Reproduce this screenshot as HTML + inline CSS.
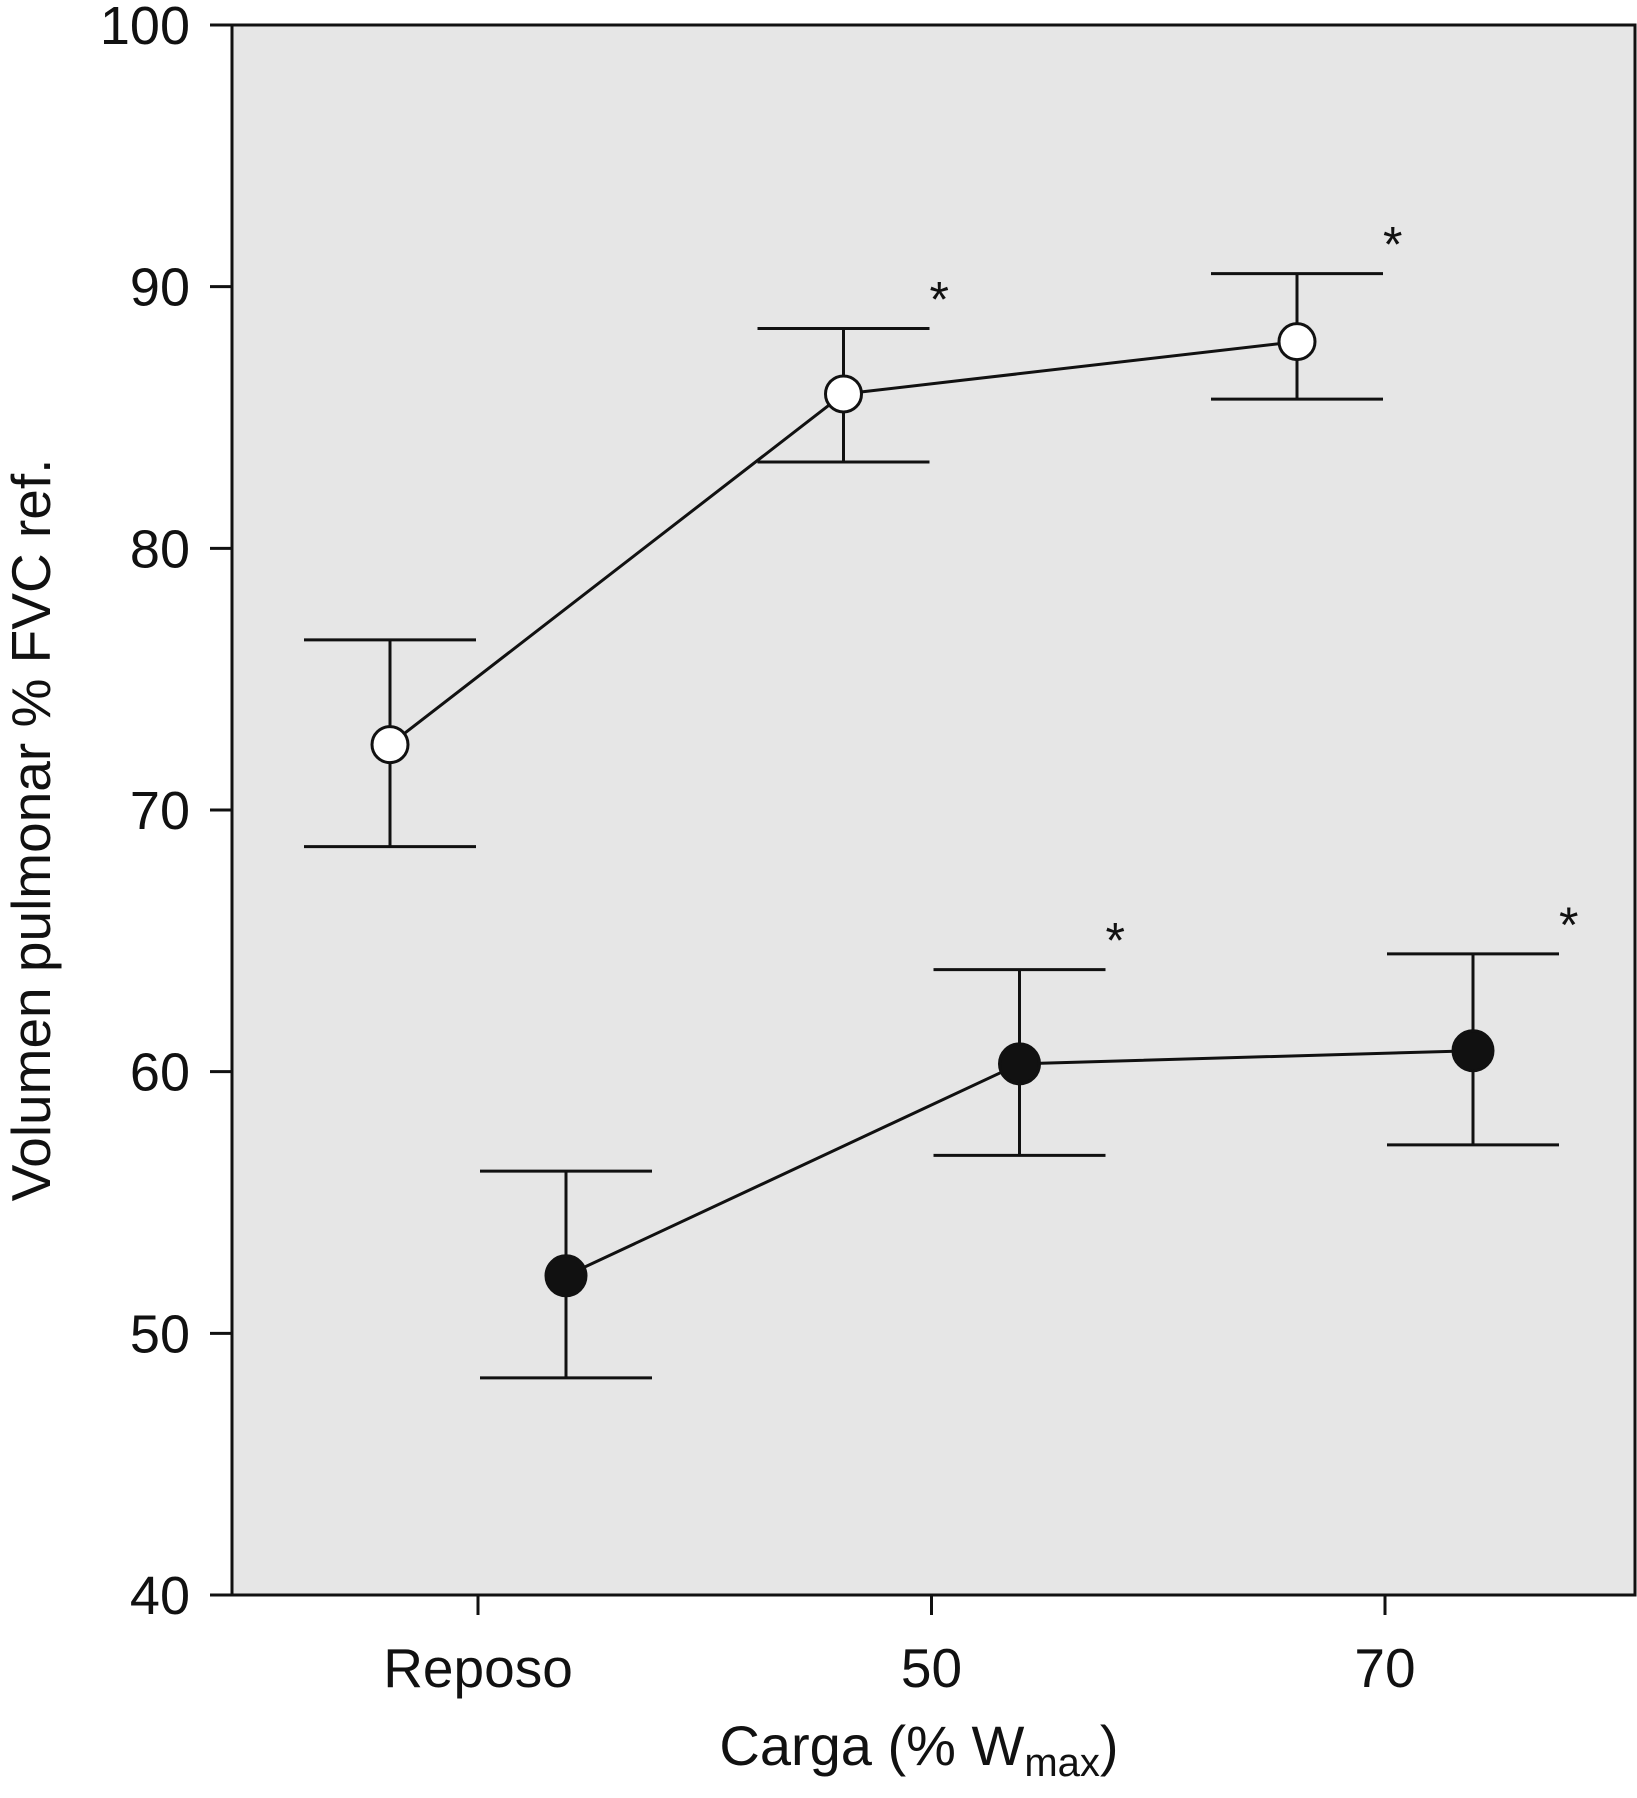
<!DOCTYPE html>
<html><head><meta charset="utf-8"><style>
html,body{margin:0;padding:0;background:#fff}
svg{display:block}
text{font-family:"Liberation Sans",Arial,sans-serif;fill:#111}
</style></head><body>
<svg id="chart" width="1637" height="1798" viewBox="0 0 1637 1798" xmlns="http://www.w3.org/2000/svg"></svg>
<script>
const categories = ["Reposo","50","70"];
const openMean = [72.5, 85.9, 87.9];
const openUpper = [76.5, 88.4, 90.5];
const openLower = [68.6, 83.3, 85.7];
const filledMean = [52.2, 60.3, 60.8];
const filledUpper = [56.2, 63.9, 64.5];
const filledLower = [48.3, 56.8, 57.2];
const openSig = [false, true, true];
const filledSig = [false, true, true];
const yTicks = [40,50,60,70,80,90,100];

const L=232, R=1635, T=25, B=1595;
const yMin=40, yMax=100;
function y(v){return B-(v-yMin)/(yMax-yMin)*(B-T);}
function xc(i){return 478+453.5*i;}
const OFF=88, CAP=86;
const svg=document.getElementById('chart');
const NS='http://www.w3.org/2000/svg';
function mk(tag,attrs,parent){const e=document.createElementNS(NS,tag);for(const k in attrs)e.setAttribute(k,attrs[k]);(parent||svg).appendChild(e);return e;}

const bg=mk('rect',{x:L,y:T,width:R-L,height:B-T,fill:'#e6e6e6',stroke:'#111','stroke-width':3});



yTicks.forEach(v=>{
  const t=mk('line',{x1:L-22,x2:L,y1:y(v),y2:y(v),stroke:'#111','stroke-width':3});
  
  
  const tx=mk('text',{x:L-42,y:y(v)+19,'text-anchor':'end','font-size':54});
  tx.textContent=v;
  
  
});
categories.forEach((c,i)=>{
  const t=mk('line',{x1:xc(i),x2:xc(i),y1:B,y2:B+20,stroke:'#111','stroke-width':3});
  
  
  const tx=mk('text',{x:xc(i),y:1687,'text-anchor':'middle','font-size':55});
  tx.textContent=c;
  
  
});

function series(mean,up,lo,sig,off,fill,name){
  const pts=mean.map((v,i)=>(xc(i)+off)+','+y(v)).join(' ');
  const pl=mk('polyline',{points:pts,fill:'none',stroke:'#111','stroke-width':3});
  
  
  mean.forEach((v,i)=>{
    const x=xc(i)+off;
    const g=mk('g',{});
    
    
    mk('line',{x1:x,x2:x,y1:y(up[i]),y2:y(lo[i]),stroke:'#111','stroke-width':3},g);
    mk('line',{x1:x-CAP,x2:x+CAP,y1:y(up[i]),y2:y(up[i]),stroke:'#111','stroke-width':3},g);
    mk('line',{x1:x-CAP,x2:x+CAP,y1:y(lo[i]),y2:y(lo[i]),stroke:'#111','stroke-width':3},g);
  });
  mean.forEach((v,i)=>{
    const c=mk('circle',{cx:xc(i)+off,cy:y(v),r:fill?20:18,fill:fill?'#111':'#fff',stroke:'#111','stroke-width':3});
    
    
    if(sig[i]){
      const s=mk('text',{x:xc(i)+off+CAP+0,y:y(up[i])-12,'font-size':50});
      s.textContent='*';
      
      
    }
  });
}
series(openMean,openUpper,openLower,openSig,-OFF,false,'open-series');
series(filledMean,filledUpper,filledLower,filledSig,OFF,true,'filled-series');

const yt=mk('text',{x:0,y:0,'text-anchor':'middle','font-size':55,transform:'translate(50,830) rotate(-90)'});
yt.textContent='Volumen pulmonar % FVC ref.';


const xt=mk('text',{x:919,y:1765,'text-anchor':'middle','font-size':56});
xt.innerHTML='Carga (% W<tspan font-size="40" dy="11">max</tspan><tspan dy="-11">)</tspan>';


</script>
</body></html>
